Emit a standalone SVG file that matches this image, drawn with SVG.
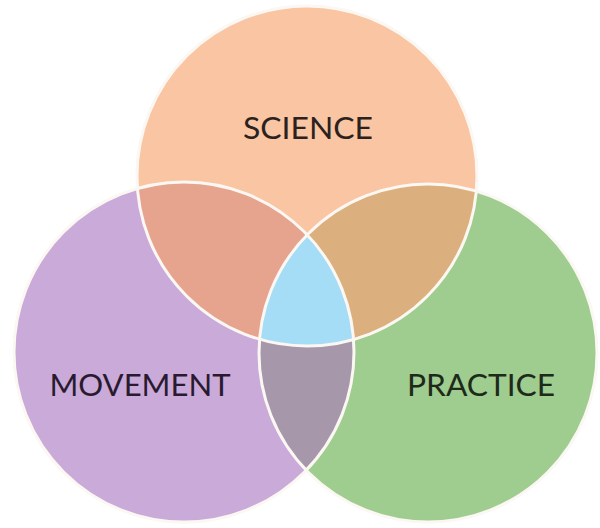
<svg xmlns="http://www.w3.org/2000/svg" width="600" height="528" viewBox="0 0 600 528">
  <style>
    .lbl { font-family: Lato, "Open Sans", "Liberation Sans", sans-serif; font-size: 30px; text-anchor: middle; }
    .edge { fill: none; stroke: #fbf7f2; stroke-width: 3; }
  </style>
  <defs>
    <circle id="cS" cx="307" cy="176" r="170"/>
    <circle id="cM" cx="184" cy="352" r="170"/>
    <circle id="cP" cx="428" cy="353" r="169"/>
    <clipPath id="clipS"><use href="#cS"/></clipPath>
    <clipPath id="clipM"><use href="#cM"/></clipPath>
    <clipPath id="clipP"><use href="#cP"/></clipPath>
  </defs>
  <rect width="600" height="528" fill="#ffffff"/>

  <g id="science">
    <use href="#cS" fill="#f9c5a2"/>
  </g>
  <g id="movement">
    <use href="#cM" fill="#c9aad8"/>
  </g>
  <g id="practice">
    <use href="#cP" fill="#9fcc8f"/>
  </g>

  <g id="overlaps">
    <g clip-path="url(#clipS)"><use href="#cM" fill="#e6a48f"/></g>
    <g clip-path="url(#clipS)"><use href="#cP" fill="#dcb07e"/></g>
    <g clip-path="url(#clipM)"><use href="#cP" fill="#a797ab"/></g>
    <g clip-path="url(#clipS)"><g clip-path="url(#clipM)"><use href="#cP" fill="#a5dcf6"/></g></g>
  </g>

  <g id="outlines">
    <use href="#cS" class="edge"/>
    <use href="#cM" class="edge"/>
    <use href="#cP" class="edge"/>
  </g>

  <g id="labels">
    <text class="lbl" x="308" y="139" fill="#2b2220" textLength="130" lengthAdjust="spacingAndGlyphs">SCIENCE</text>
    <text class="lbl" x="140" y="396" fill="#2a1a30" textLength="181" lengthAdjust="spacingAndGlyphs">MOVEMENT</text>
    <text class="lbl" x="481" y="396" fill="#1d2a1a" textLength="148" lengthAdjust="spacingAndGlyphs">PRACTICE</text>
  </g>
</svg>
